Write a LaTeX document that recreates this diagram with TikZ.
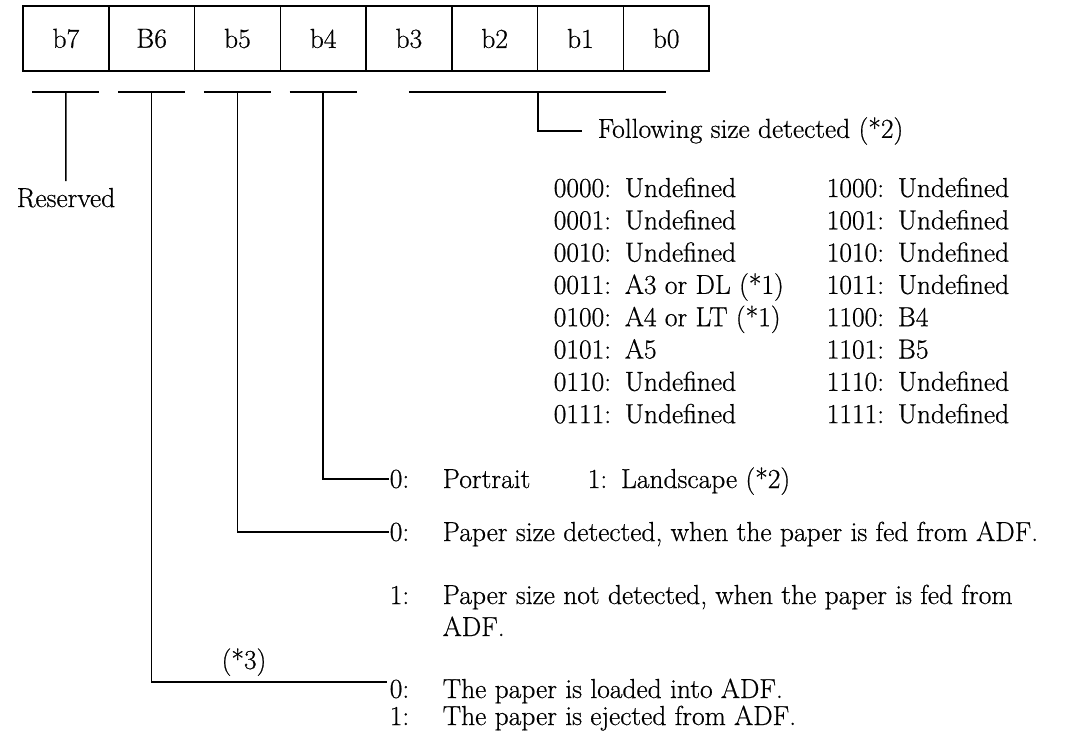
\documentclass[tikz,border=0pt]{standalone}
\usepackage{fontspec}
\setmainfont{Latin Modern Roman}[FakeBold=0.6]
\begin{document}
\begin{tikzpicture}[
  x=1pt, y=-1pt,
  cell/.style={draw, minimum width=85.75pt, minimum height=65pt, inner sep=0pt},
  txt/.style={anchor=base west, inner sep=0pt},
  key/.style={anchor=west, inner sep=0pt},
  line width=1.5pt,
  font=\fontsize{27.5}{33}\selectfont
]
  \useasboundingbox (0,0) rectangle (1089,736);

  \foreach \b/\lab in {7/b7,6/B6,5/b5,4/b4,3/b3,2/b2,1/b1,0/b0}
    \node[cell] (bit\b) at ({23+85.75*(7.5-\b)},38.5) {\lab};

  \foreach \b in {7,6,5,4} {
    \coordinate (tk\b) at (bit\b.center |- 0,92);
    \draw ([xshift=-33.5pt]tk\b) -- ([xshift=33.5pt]tk\b);
  }
  \coordinate (tkl) at (bit3.center |- 0,92);
  \coordinate (tkr) at (bit0.center |- 0,92);
  \coordinate (tk30) at (538,92);
  \draw (tkl) -- (tkr);

  \node[anchor=base, inner sep=0pt, inner ysep=6pt] (res) at (66,207) {Reserved};
  \draw (tk7) -- (res);

  \node[key, inner xsep=15pt] (fol) at (582,131) {Following size detected (*2)};
  \draw (tk30) |- (fol);

  \foreach \code/\val [count=\r from 0] in {0000/Undefined,0001/Undefined,0010/Undefined,0011/A3 or DL (*1),0100/A4 or LT (*1),0101/A5,0110/Undefined,0111/Undefined}
    \node[txt] (lo\r) at (553,{197+32.3*\r}) {\code:\enspace\val};
  \foreach \code/\val [count=\r from 0] in {1000/Undefined,1001/Undefined,1010/Undefined,1011/Undefined,1100/B4,1101/B5,1110/Undefined,1111/Undefined}
    \node[txt] (hi\r) at (826,{197+32.3*\r}) {\code:\enspace\val};

  \node[key] (pt0) at (389,479) {0:};
  \node[txt] (pt) at (442,488) {Portrait};
  \node[txt] (ls) at (587,488) {1:\enspace Landscape (*2)};
  \draw (tk4) |- (pt0);

  \node[key] (ps0) at (389,532) {0:};
  \node[txt] (psa) at (442,541) {Paper size detected, when the paper is fed from ADF.};
  \node[key] (ps1) at (389,595) {1:};
  \node[txt] (psb) at (442,604) {Paper size not detected, when the paper is fed from};
  \node[txt] (psc) at (442,636) {ADF.};
  \draw (tk5) |- (ps0);

  \coordinate (ld) at (387,682);
  \node[anchor=base, inner sep=0pt] (n3) at (244,669) {(*3)};
  \node[key] (ad0) at (389,689) {0:};
  \node[txt] (ada) at (442,698) {The paper is loaded into ADF.};
  \node[key] (ad1) at (389,716) {1:};
  \node[txt] (adb) at (442,725) {The paper is ejected from ADF.};
  \draw (tk6) |- (ld);
\end{tikzpicture}
\end{document}
